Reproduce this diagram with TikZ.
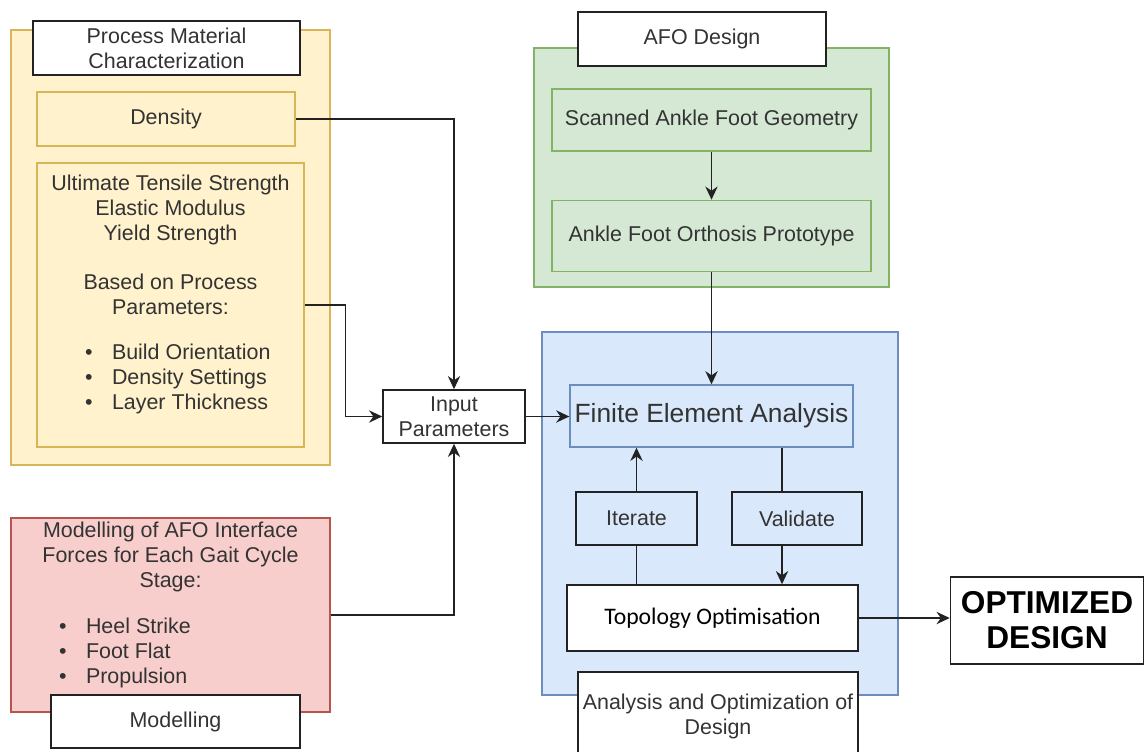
\documentclass[tikz,border=0pt]{standalone}
\usepackage{fontspec}
\setmainfont{Liberation Sans}
\newfontfamily\calibrifont{Carlito}
\usetikzlibrary{arrows.meta,positioning}
\usepackage{xcolor}
\definecolor{flow-text}{HTML}{333333}
\definecolor{flow-line}{HTML}{222222}
\definecolor{flow-yellow-fill}{HTML}{fff2cc}
\definecolor{flow-yellow-draw}{HTML}{d6b656}
\definecolor{flow-green-fill}{HTML}{d5e8d4}
\definecolor{flow-green-draw}{HTML}{82b366}
\definecolor{flow-blue-fill}{HTML}{dae8fc}
\definecolor{flow-blue-draw}{HTML}{6c8ebf}
\definecolor{flow-red-fill}{HTML}{f8cecc}
\definecolor{flow-red-draw}{HTML}{b85450}

\begin{document}
\begin{tikzpicture}[x=0.02cm, y=-0.02cm, >={Stealth[length=7.5pt,width=7pt]},
    font=\fontsize{12.2}{14.2}\selectfont, text=flow-text]
  \tikzstyle{every node}=[rectangle, inner sep=0pt, align=center]
  \tikzstyle{groupbox}=[draw, line width=0.8pt]
  \tikzstyle{yellowbox}=[groupbox, draw=flow-yellow-draw, fill=flow-yellow-fill]
  \tikzstyle{greenbox}=[groupbox, draw=flow-green-draw, fill=flow-green-fill]
  \tikzstyle{bluebox}=[groupbox, draw=flow-blue-draw, fill=flow-blue-fill]
  \tikzstyle{redbox}=[groupbox, draw=flow-red-draw, fill=flow-red-fill]
  \tikzstyle{titlebox}=[draw=flow-line, fill=white, line width=1.1pt]
  \tikzstyle{stepbox}=[draw=flow-line, line width=0.9pt]
  \tikzstyle{flow}=[draw=flow-line, line width=0.9pt]

  \useasboundingbox (0,0) rectangle (1145,751);
  \clip (0,0) rectangle (1145,751);

  %% Material characterization
  \node[yellowbox, minimum width=6.38cm, minimum height=8.7cm] (pmc) at (170.5,247.5) {};
  \node[yellowbox, minimum width=5.16cm, minimum height=1.08cm] (density) at (166,119) {Density};
  \node[yellowbox, minimum width=5.34cm, minimum height=5.68cm] (props) at (170.5,305)
    {Ultimate Tensile Strength\\Elastic Modulus\\Yield Strength\\[14.2pt]
     Based on Process\\Parameters:\\[11pt]
     \makebox[5.34cm][l]{\hspace{0.96cm}\begin{tabular}[t]{@{}l@{\hspace{0.39cm}}l@{}}
       \textbullet & Build Orientation\\
       \textbullet & Density Settings\\
       \textbullet & Layer Thickness\rule[-15pt]{0pt}{0pt}\end{tabular}}};
  \node[titlebox, minimum width=5.34cm, minimum height=1.08cm] (pmc title) at (166.5,48)
    {Process Material\\Characterization};

  %% Modelling
  \node[redbox, minimum width=6.38cm, minimum height=3.88cm] (mod) at (170.5,615)
    {Modelling of AFO Interface\\Forces for Each Gait Cycle\\Stage:\\[12.5pt]
     \makebox[6.38cm][l]{\hspace{0.96cm}\begin{tabular}[t]{@{}l@{\hspace{0.39cm}}l@{}}
       \textbullet & Heel Strike\\
       \textbullet & Foot Flat\\
       \textbullet & Propulsion\rule[-14pt]{0pt}{0pt}\end{tabular}}};
  \node[titlebox, minimum width=4.98cm, minimum height=1.06cm] (mod title) at (175.5,721.5) {Modelling};

  %% AFO design
  \node[greenbox, minimum width=7.1cm, minimum height=4.78cm] (afo) at (711.5,167.5) {};
  \node[greenbox, minimum width=6.38cm, minimum height=1.24cm] (scan) at (711.5,120)
    {Scanned Ankle Foot Geometry};
  \node[greenbox, minimum width=6.38cm, minimum height=1.42cm] (proto) [below=0.96cm of scan]
    {Ankle Foot Orthosis Prototype};
  \node[titlebox, minimum width=4.96cm, minimum height=1.08cm] (afo title) at (702,39) {AFO Design};

  %% Analysis and optimization
  \node[bluebox, minimum width=7.12cm, minimum height=7.26cm] (ana) at (720,513.5) {};
  \node[bluebox, minimum width=5.66cm, minimum height=1.24cm, font=\fontsize{15}{17}\selectfont]
    (fea) at (711.5,416) {Finite Element Analysis};
  \node[stepbox, minimum width=2.42cm, minimum height=1.06cm] (iter) at (636.5,518.5) {Iterate};
  \node[stepbox, minimum width=2.6cm, minimum height=1.06cm] (valid) at (797,518.5) {Validate};
  \node[stepbox, fill=white, minimum width=5.82cm, minimum height=1.32cm, text=black,
    font=\calibrifont\fontsize{13.5}{16}\selectfont] (topo) at (712.5,618) {Topology Optimisation};
  \node[titlebox, minimum width=5.6cm, minimum height=1.76cm] (ana title) at (718,716)
    {Analysis and Optimization of\\Design};

  %% Input and result
  \node[stepbox, minimum width=2.84cm, minimum height=1.06cm] (input) at (454,416.5)
    {Input\\Parameters};
  \node[stepbox, minimum width=3.86cm, minimum height=1.74cm, text=black,
    font=\fontsize{18}{20}\selectfont\bfseries] (result) at (1047,620.5) {OPTIMIZED\\DESIGN};

  %% Inputs
  \draw[flow,->] (density) -| (input);
  \draw[flow,->] (props.east) -- ++(41,0) |- (input);
  \draw[flow,->] (mod) -| (input);

  %% Design path
  \draw[flow,->] (scan) -- (proto);
  \draw[flow,->] (proto) -- (fea);
  \draw[flow,->] (input) -- (input -| fea.west);

  %% Loop
  \draw[flow,->] (iter) -- (iter |- fea.south);
  \draw[flow] (topo.north -| iter) -- (iter);
  \draw[flow] ([xshift=-0.3cm]valid.north |- fea.south) -- ([xshift=-0.3cm]valid.north);
  \draw[flow,->] ([xshift=-0.3cm]valid.south) -- ([xshift=-0.3cm]valid.south |- topo.north);
  \draw[flow,->] (topo) -- (topo -| result.west);
\end{tikzpicture}
\end{document}
